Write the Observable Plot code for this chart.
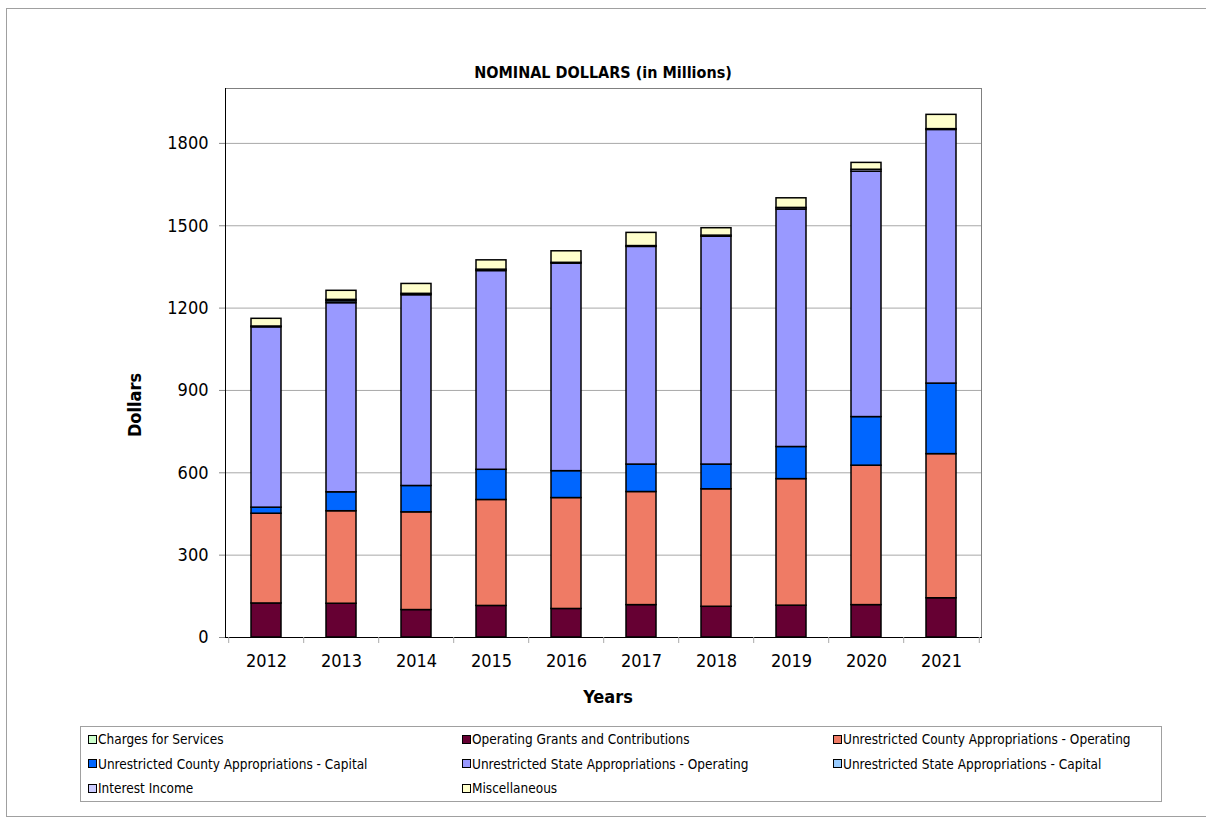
<!DOCTYPE html>
<html><head><meta charset="utf-8">
<script src="https://cdn.jsdelivr.net/npm/d3@7"></script>
<script src="https://cdn.jsdelivr.net/npm/@observablehq/plot@0.6"></script>
<style>
html,body{margin:0;padding:0;background:#fff;}
#wrap{position:relative;width:1206px;height:825px;overflow:hidden;font-family:"DejaVu Sans Condensed","DejaVu Sans",sans-serif;}
#border{position:absolute;left:6px;top:8px;width:1220px;height:809px;border:1px solid #a0a0a0;box-sizing:border-box;}
#chart{position:absolute;left:0;top:0;}
.lbl{position:absolute;font-weight:bold;color:#000;white-space:nowrap;}
#title{left:0;width:1206px;text-align:center;top:63px;font-size:16px;}
#xlab{left:0;width:1216px;text-align:center;top:686px;font-size:18px;}
#ylab{left:134px;top:405px;font-size:18px;transform:translate(-50%,-50%) rotate(-90deg);}
#legend{position:absolute;left:80px;top:726px;width:1082px;height:76px;border:1px solid #a0a0a0;box-sizing:border-box;font-size:13.5px;color:#000;}
.item{position:absolute;display:flex;align-items:center;white-space:nowrap;}
.sw{width:7px;height:7px;border:1px solid #000;margin-right:1px;}
</style>
</head><body>
<div id="wrap">
  <div id="border"></div>
  <div id="chart"></div>
  <div class="lbl" id="title">NOMINAL DOLLARS (in Millions)</div>
  <div class="lbl" id="xlab">Years</div>
  <div class="lbl" id="ylab">Dollars</div>
  <div id="legend"></div>
</div>
<script>
const years = ["2012","2013","2014","2015","2016","2017","2018","2019","2020","2021"];
const seriesNames = [
  "Charges for Services",
  "Operating Grants and Contributions",
  "Unrestricted County Appropriations - Operating",
  "Unrestricted County Appropriations - Capital",
  "Unrestricted State Appropriations - Operating",
  "Unrestricted State Appropriations - Capital",
  "Interest Income",
  "Miscellaneous"
];
const seriesColors = ["#CCFFCC","#660033","#EF7B65","#0066FF","#9999FF","#99CCFF","#CCCCFF","#FFFFCC"];

const chargesForServices = [0,0,0,0,0,0,0,0,0,0];
const operatingGrants    = [124,123,100,115,104,118,112,116,118,143];
const countyOperating    = [327,337,356,386,404,412,428,461,508,525];
const countyCapital      = [22,69,96,110,98,100,90,117,177,257];
const stateOperating     = [657,689,695,724,756,793,830,865,894,924];
const stateCapital       = [0,7,0,0,0,0,0,0,0,0];
const interestIncome     = [3,5,5,5,3,3,4,6,7,3];
const miscellaneous      = [28,33,36,34,42,48,27,35,25,52];

const yTicks = [0,300,600,900,1200,1500,1800];

const seriesValues = [chargesForServices, operatingGrants, countyOperating, countyCapital,
  stateOperating, stateCapital, interestIncome, miscellaneous];
const rows = [];
seriesNames.forEach((s, i) => years.forEach((y, j) => rows.push({year: y, series: s, value: seriesValues[i][j]})));

const W = 1206, H = 825, mL = 225, mR = 225, mT = 88, mB = 188;
const step = (W - mL - mR) / years.length;

const chart = Plot.plot({
  width: W, height: H,
  marginLeft: mL, marginRight: mR, marginTop: mT, marginBottom: mB,
  style: {fontFamily: '"DejaVu Sans Condensed","DejaVu Sans",sans-serif', fontSize: "18px", color: "#000", background: "transparent"},
  x: {domain: years, paddingInner: 0.6, paddingOuter: 0.3},
  y: {domain: [0, 2000]},
  color: {domain: seriesNames, range: seriesColors},
  marks: [
    Plot.ruleY(yTicks.filter(d => d > 0), {stroke: "#a8a8a8", strokeWidth: 1}),
    Plot.barY(rows, {x: "year", y: "value", fill: "series", stroke: "#000", strokeWidth: 1.5}),
    Plot.frame({stroke: "#808080"}),
    Plot.frame({anchor: "left", stroke: "#000"}),
    Plot.frame({anchor: "bottom", stroke: "#000"}),
    Plot.axisY({ticks: yTicks, tickFormat: d => String(d), tickSize: 6, tickPadding: 11, stroke: "#888", label: null, fontSize: 18}),
    Plot.axisX({tickSize: 0, tickPadding: 17, label: null, fontSize: 18}),
    Plot.axisX({tickSize: 6, tickFormat: () => "", dx: -step / 2, stroke: "#aaa", label: null}),
    Plot.axisX([years[years.length - 1]], {tickSize: 6, tickFormat: () => "", dx: step / 2, stroke: "#aaa", label: null})
  ]
});
document.getElementById("chart").appendChild(chart);

const legend = document.getElementById("legend");
const colX = [7, 381, 752];
seriesNames.forEach((s, i) => {
  const it = document.createElement("div");
  it.className = "item";
  it.style.left = colX[i % 3] + "px";
  it.style.top = (4 + Math.floor(i / 3) * 24.5) + "px";
  const sw = document.createElement("span");
  sw.className = "sw";
  sw.style.background = seriesColors[i];
  const tx = document.createElement("span");
  tx.textContent = s;
  it.appendChild(sw); it.appendChild(tx);
  legend.appendChild(it);
});
</script>
</body></html>
